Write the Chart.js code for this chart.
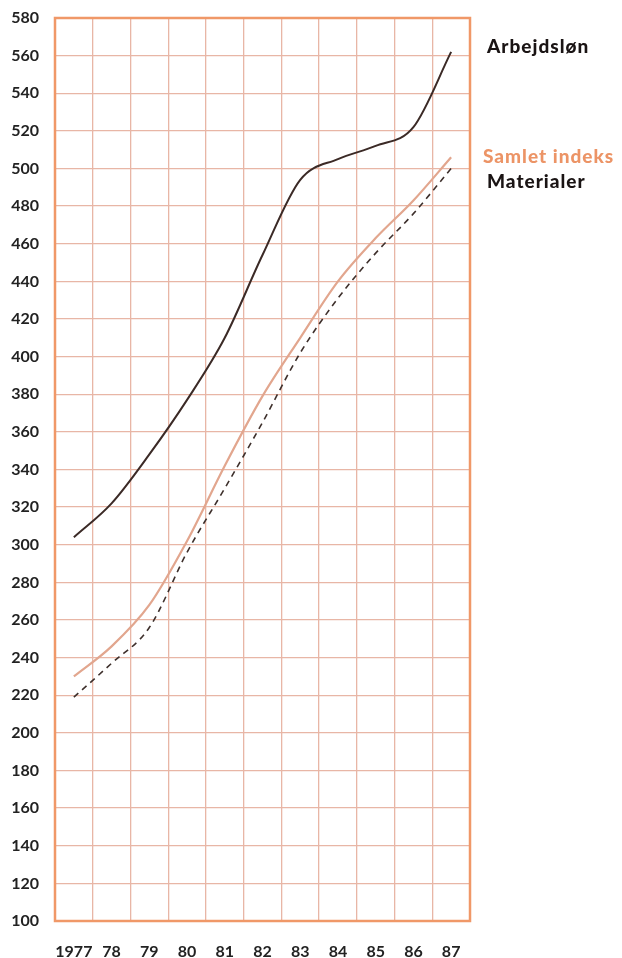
<!DOCTYPE html>
<html>
<head>
<meta charset="utf-8">
<script src="https://cdn.jsdelivr.net/npm/chart.js@4"></script>
<style>
  html, body { margin: 0; padding: 0; background: #ffffff; }
  #wrap { width: 622px; height: 958px; position: relative; }
</style>
</head>
<body>
<div id="wrap"><canvas id="c" width="622" height="958"></canvas></div>
<script>
const years = ['1977', '78', '79', '80', '81', '82', '83', '84', '85', '86', '87'];
const arbejdslon = [304, 322, 348, 377, 410, 454, 494, 505, 512, 522, 562];
const samletIndeks = [230, 246, 268, 302, 342, 379, 410, 440, 463, 483, 506];
const materialer = [219, 237, 256, 296, 330, 365, 402, 431, 455, 476, 500];
const seriesNames = ['Arbejdsløn', 'Samlet indeks', 'Materialer'];
const yMin = 100, yMax = 580, yStep = 20;

const FONT = 'Lato, "Open Sans", sans-serif';
const GRID = '#e8b6a6';
const FRAME = '#f09868';

const frameAndLabels = {
  id: 'frameAndLabels',
  afterDatasetsDraw(chart) {
    const { ctx, chartArea: a, scales } = chart;
    ctx.save();
    ctx.strokeStyle = FRAME;
    ctx.lineWidth = 2.5;
    ctx.strokeRect(a.left, a.top, a.right - a.left, a.bottom - a.top);
    const y = scales.y;
    const specs = [
      { text: seriesNames[0], color: '#1a1414', x: 487, y: y.getPixelForValue(arbejdslon[arbejdslon.length - 1]) - 5 },
      { text: seriesNames[1], color: '#ec9466', x: 483, y: y.getPixelForValue(samletIndeks[samletIndeks.length - 1]) },
      { text: seriesNames[2], color: '#1a1414', x: 487, y: y.getPixelForValue(materialer[materialer.length - 1]) + 13 }
    ];
    ctx.font = '900 19px ' + FONT;
    try { ctx.letterSpacing = '1px'; } catch (e) {}
    ctx.textBaseline = 'middle';
    ctx.textAlign = 'left';
    specs.forEach(s => { ctx.fillStyle = s.color; ctx.fillText(s.text, s.x, s.y); });
    ctx.restore();
  }
};

new Chart(document.getElementById('c'), {
  type: 'line',
  data: {
    labels: years,
    datasets: [
      { label: seriesNames[0], data: arbejdslon, borderColor: '#3b2a26', borderWidth: 2, pointRadius: 0, cubicInterpolationMode: 'monotone', fill: false },
      { label: seriesNames[1], data: samletIndeks, borderColor: '#e2a68e', borderWidth: 2.2, pointRadius: 0, cubicInterpolationMode: 'monotone', fill: false },
      { label: seriesNames[2], data: materialer, borderColor: '#3e302c', borderWidth: 1.6, borderDash: [6, 5], pointRadius: 0, cubicInterpolationMode: 'monotone', fill: false }
    ]
  },
  options: {
    responsive: false,
    animation: false,
    layout: { padding: { top: 18, right: 152, left: 0, bottom: 0 } },
    plugins: { legend: { display: false }, tooltip: { enabled: false } },
    scales: {
      x: {
        type: 'category',
        offset: true,
        grid: { color: GRID, lineWidth: 1.3, drawTicks: false, offset: true },
        border: { display: false },
        ticks: { color: '#222', font: { family: FONT, size: 16, weight: 'bold' }, padding: 21, maxRotation: 0, autoSkip: false },
        afterFit(s) { s.height = 37; s.paddingLeft = 0; s.paddingRight = 0; }
      },
      y: {
        min: yMin, max: yMax,
        grid: { color: GRID, lineWidth: 1.3, drawTicks: false },
        border: { display: false },
        ticks: { stepSize: yStep, color: '#222', font: { family: FONT, size: 16, weight: 'bold' }, padding: 16 },
        afterFit(s) { s.width = 55; s.paddingTop = 0; s.paddingBottom = 0; }
      }
    }
  },
  plugins: [frameAndLabels]
});
</script>
</body>
</html>
